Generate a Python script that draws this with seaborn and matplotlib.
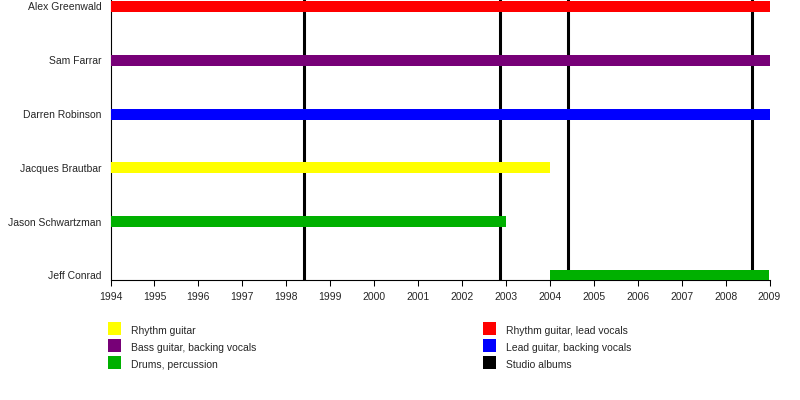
import matplotlib
matplotlib.use("Agg")
import matplotlib.pyplot as plt
import seaborn as sns
import pandas as pd
from matplotlib.patches import Rectangle

# ---- data ----
members = ["Alex Greenwald", "Sam Farrar", "Darren Robinson",
           "Jacques Brautbar", "Jason Schwartzman", "Jeff Conrad"]
bar_members = ["Alex Greenwald", "Sam Farrar", "Darren Robinson",
               "Jacques Brautbar", "Jason Schwartzman", "Jeff Conrad"]
bar_start = [1994, 1994, 1994, 1994, 1994, 2004]
bar_end = [2009, 2009, 2009, 2004, 2003, 2009]
bar_role = ["Rhythm guitar, lead vocals", "Bass guitar, backing vocals",
            "Lead guitar, backing vocals", "Rhythm guitar",
            "Drums, percussion", "Drums, percussion"]
album_years = [1998.41, 2002.87, 2004.42, 2008.61]
year_ticks = list(range(1994, 2010))

legend_left = ["Rhythm guitar", "Bass guitar, backing vocals", "Drums, percussion"]
legend_right = ["Rhythm guitar, lead vocals", "Lead guitar, backing vocals", "Studio albums"]
role_colors = {
    "Rhythm guitar": "#ffff00",
    "Bass guitar, backing vocals": "#770077",
    "Drums, percussion": "#00b000",
    "Rhythm guitar, lead vocals": "#ff0000",
    "Lead guitar, backing vocals": "#0000ff",
    "Studio albums": "#000000",
}

df = pd.DataFrame({"member": bar_members, "start": bar_start, "end": bar_end, "role": bar_role})
df["duration"] = df["end"] - df["start"]

sns.set_theme(style="white")
plt.rcParams["font.family"] = ["Liberation Sans", "DejaVu Sans"]

fig = plt.figure(figsize=(8, 4), dpi=100)
ax = fig.add_axes([110.5 / 800, 120 / 400, 659 / 800, 280 / 400])

for _, row in df.iterrows():
    sub = pd.DataFrame([row])
    sns.barplot(data=sub, y="member", x="duration", order=members, orient="h",
                color=role_colors[row["role"]], left=row["start"], width=0.205,
                errorbar=None, saturation=1, linewidth=0, ax=ax, zorder=3)

for yr in album_years:
    ax.axvline(yr, color="black", lw=2.2, zorder=1)

ax.set_xlim(1994, 2009)
ax.set_ylim(5.085, -0.12)
ax.set_xticks(year_ticks)
ax.set_xticklabels([str(y) for y in year_ticks], fontsize=7.5)
ax.tick_params(axis="x", direction="out", length=4.5, width=0.75, color="black", pad=3.8, bottom=True)
ax.tick_params(axis="y", length=0, pad=6.5, labelsize=7.5)
ax.set_xlabel("")
ax.set_ylabel("")
for s in ["top", "right"]:
    ax.spines[s].set_visible(False)
for s in ["left", "bottom"]:
    ax.spines[s].set_color("black")
    ax.spines[s].set_linewidth(0.8)
ax.set_facecolor("white")
ax.grid(False)

# legend (manual layout)
sq_top = [322, 339.3, 356]
baselines = [334.3, 351.2, 368.2]
for col_x, labels in [(108.3, legend_left), (483.3, legend_right)]:
    for lab, yt, yb in zip(labels, sq_top, baselines):
        fig.add_artist(Rectangle((col_x / 800, 1 - (yt + 12.7) / 400), 12.7 / 800, 12.7 / 400,
                                 transform=fig.transFigure, color=role_colors[lab], lw=0))
        fig.text((col_x + 22.3) / 800, 1 - yb / 400, lab, fontsize=7.5, va="baseline", ha="left")

fig.savefig("out.png", dpi=100, facecolor="white")
